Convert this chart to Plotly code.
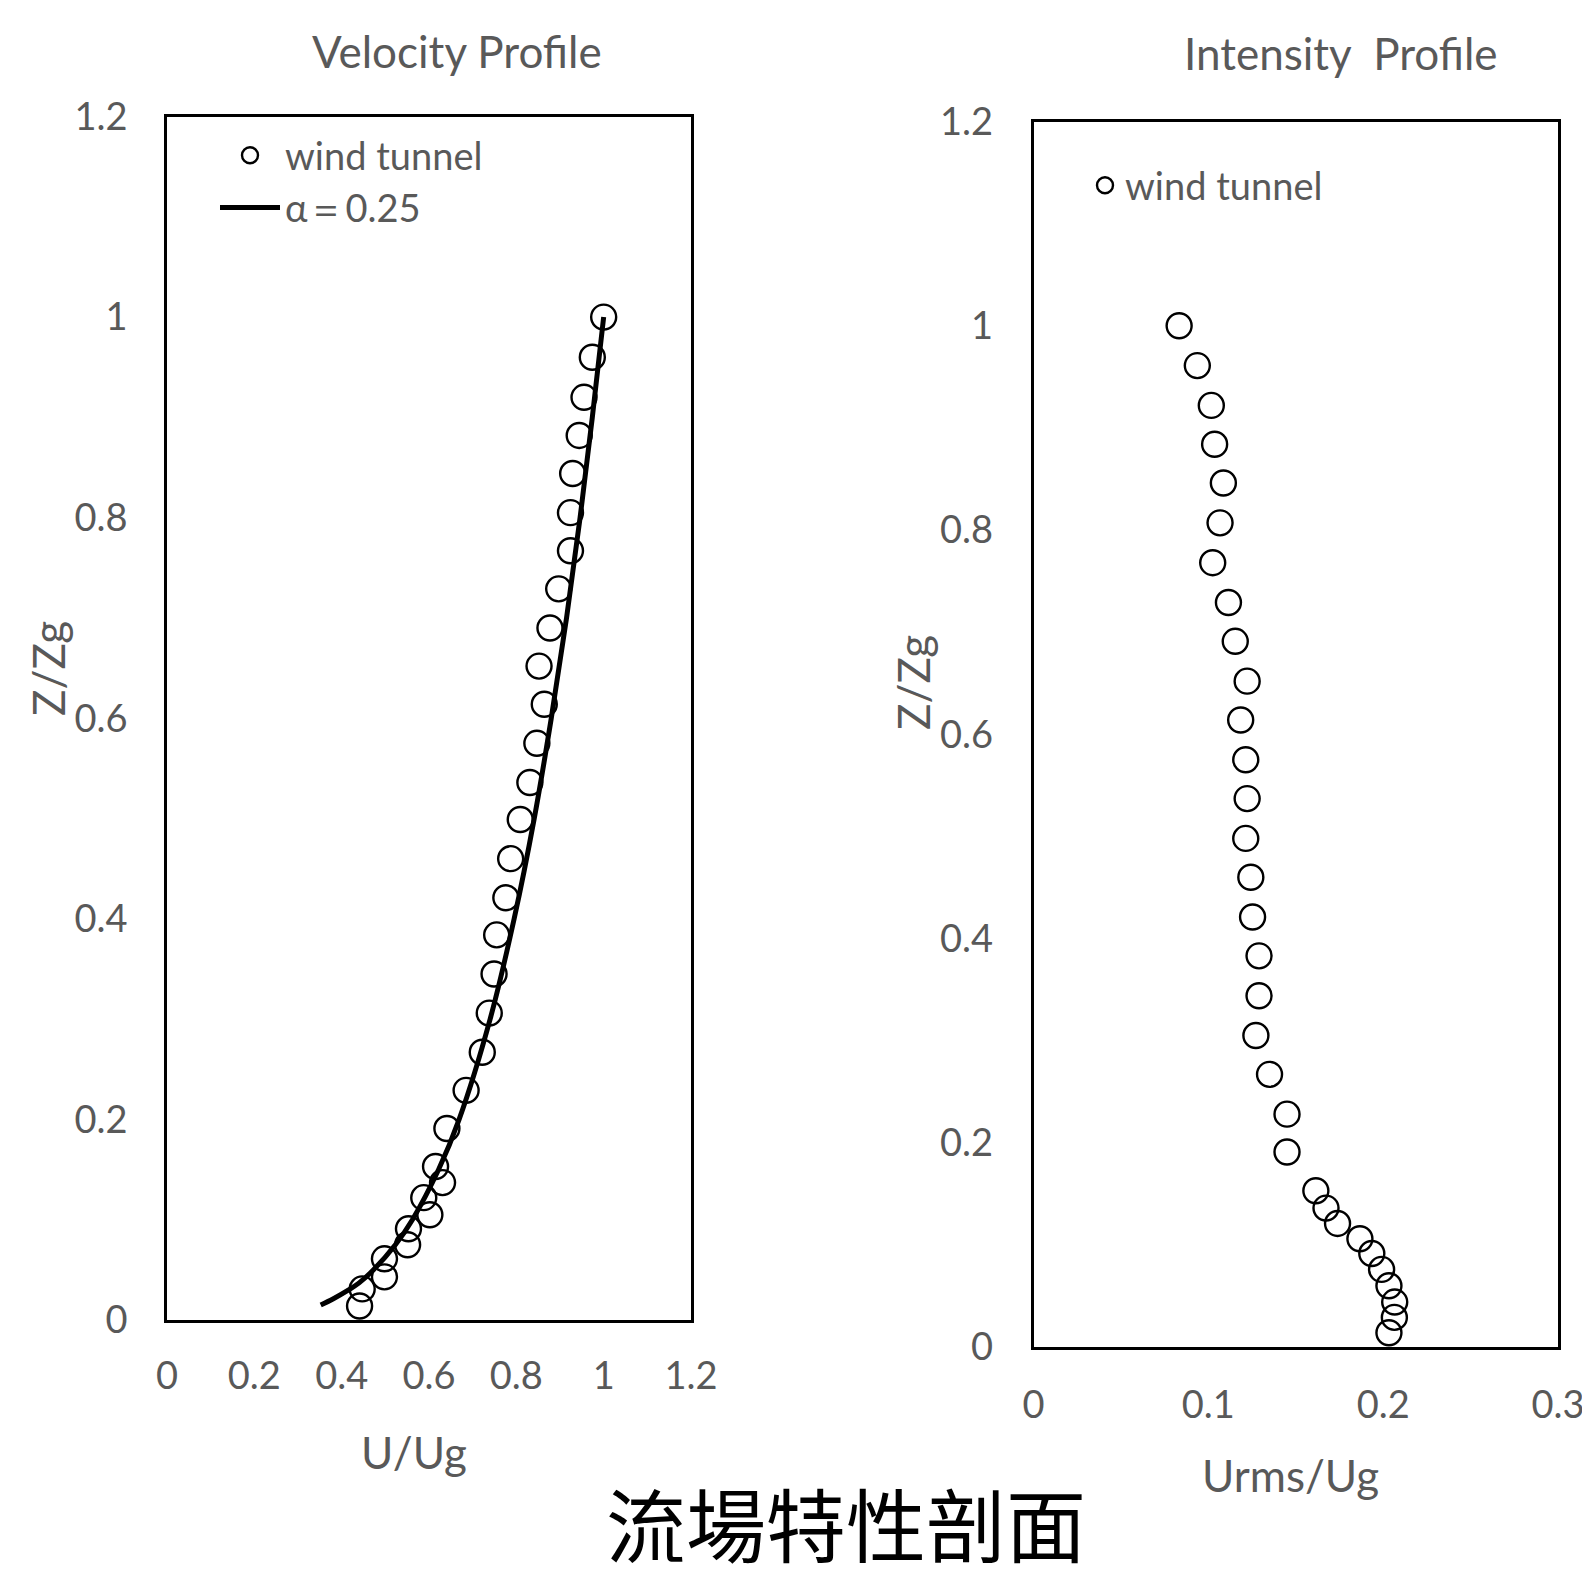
import plotly.graph_objects as go

# ---------------- data ----------------
vel_z = [1.000, 0.960, 0.920, 0.882, 0.844, 0.805, 0.767, 0.729, 0.690, 0.652, 0.614,
         0.575, 0.536, 0.499, 0.460, 0.421, 0.384, 0.345, 0.306, 0.267, 0.229, 0.191,
         0.153, 0.137, 0.122, 0.105, 0.091, 0.075, 0.061, 0.043, 0.031, 0.014]
vel_u = [1.000, 0.974, 0.955, 0.944, 0.929, 0.924, 0.924, 0.897, 0.877, 0.852, 0.864,
         0.847, 0.831, 0.809, 0.787, 0.776, 0.755, 0.749, 0.738, 0.722, 0.685, 0.641,
         0.615, 0.631, 0.588, 0.602, 0.553, 0.551, 0.498, 0.498, 0.447, 0.441]

fit_u = [0.352, 0.380, 0.416, 0.440, 0.473, 0.523, 0.562, 0.622, 0.669, 0.740, 0.795,
         0.841, 0.880, 0.915, 0.946, 0.974, 1.000]
fit_z = [0.015, 0.021, 0.030, 0.037, 0.050, 0.075, 0.100, 0.150, 0.200, 0.300, 0.400,
         0.500, 0.600, 0.700, 0.800, 0.900, 1.000]

int_z = [1.000, 0.961, 0.922, 0.884, 0.846, 0.807, 0.768, 0.729, 0.691, 0.652, 0.614,
         0.575, 0.537, 0.498, 0.460, 0.421, 0.383, 0.344, 0.305, 0.267, 0.228, 0.191,
         0.153, 0.136, 0.121, 0.106, 0.0915, 0.076, 0.060, 0.044, 0.029, 0.014]
int_u = [0.0833, 0.0937, 0.1017, 0.1036, 0.1086, 0.1067, 0.1025, 0.1115, 0.1154, 0.1222,
         0.1185, 0.1214, 0.1222, 0.1214, 0.1243, 0.1253, 0.1290, 0.1290, 0.1272, 0.1350,
         0.1450, 0.1450, 0.1615, 0.1673, 0.1739, 0.1867, 0.1935, 0.1991, 0.2033, 0.2066,
         0.2064, 0.2033]

left_xticks = [0, 0.2, 0.4, 0.6, 0.8, 1, 1.2]
right_xticks = [0, 0.1, 0.2, 0.3]
yticks = [0, 0.2, 0.4, 0.6, 0.8, 1, 1.2]

# ---------------- figure ----------------
PAGE_W, PAGE_H = 1590, 1581
OFF = 8                      # default body margin of the html page
W, H = PAGE_W - OFF, PAGE_H - OFF
FONT = "Lato"
GRAY = "#595959"

fig = go.Figure()

marker_style = dict(symbol="circle-open", size=25, color="black", line=dict(width=2.4))

fig.add_trace(go.Scatter(x=vel_u, y=vel_z, mode="markers", name="wind tunnel",
                         marker=marker_style, xaxis="x", yaxis="y", legend="legend"))
fig.add_trace(go.Scatter(x=fit_u, y=fit_z, mode="lines", name="α＝0.25",
                         line=dict(color="black", width=5, shape="spline"),
                         xaxis="x", yaxis="y", legend="legend"))
fig.add_trace(go.Scatter(x=int_u, y=int_z, mode="markers", name="wind tunnel",
                         marker=marker_style, xaxis="x2", yaxis="y2", legend="legend2"))

def px_x(p):          # screen pixel -> paper fraction
    return (p - OFF) / W

def px_y(p):
    return 1 - (p - OFF) / H

axis_common = dict(showgrid=False, zeroline=False, showline=True, linecolor="black",
                   linewidth=2.5, mirror=True, ticks="", automargin=False,
                   tickfont=dict(family=FONT, size=38, color=GRAY))

fig.update_layout(
    template="none",
    width=W, height=H,
    margin=dict(l=0, r=0, t=0, b=0, pad=0, autoexpand=False),
    paper_bgcolor="white", plot_bgcolor="white",
    xaxis=dict(domain=[px_x(167), px_x(691)], range=[0, 1.2], tickvals=left_xticks,
               anchor="y", ticklabelstandoff=21, **axis_common),
    yaxis=dict(domain=[px_y(1320), px_y(116.5)], range=[0, 1.2], tickvals=yticks,
               anchor="x", ticklabelstandoff=29, **axis_common),
    xaxis2=dict(domain=[px_x(1033.5), px_x(1558)], range=[0, 0.3], tickvals=right_xticks,
                anchor="y2", ticklabelstandoff=23, **axis_common),
    yaxis2=dict(domain=[px_y(1347), px_y(121.5)], range=[0, 1.2], tickvals=yticks,
                anchor="x2", ticklabelstandoff=30, **axis_common),
    legend=dict(x=px_x(215), y=px_y(124), xanchor="left", yanchor="top",
                bgcolor="rgba(0,0,0,0)", font=dict(family=FONT, size=38, color=GRAY),
                itemwidth=60, tracegroupgap=0),
    legend2=dict(x=px_x(1085), y=px_y(154), xanchor="left", yanchor="top",
                 bgcolor="rgba(0,0,0,0)", font=dict(family=FONT, size=38, color=GRAY)),
    showlegend=True,
)

ann = []
def text(x, y, s, size, color=GRAY, family=FONT, angle=0, yanchor="middle"):
    ann.append(dict(x=px_x(x), y=px_y(y), xref="paper", yref="paper", text=s,
                    showarrow=False, xanchor="center", yanchor=yanchor, textangle=angle,
                    font=dict(family=family, size=size, color=color)))

text(457, 51, "Velocity Profile", 44)
text(1341, 53, "Intensity\u00a0 Profile", 44)
text(414, 1452, "U/Ug", 44)
text(1290, 1475, "Urms/Ug", 44)
text(48, 669, "Z/Zg", 44, angle=-90)
text(913, 683, "Z/Zg", 44, angle=-90)
text(846, PAGE_H, "流場特性剖面", 80, color="black", family="Noto Sans CJK TC", yanchor="bottom")

fig.update_layout(annotations=ann)

fig.write_html("out.html")
